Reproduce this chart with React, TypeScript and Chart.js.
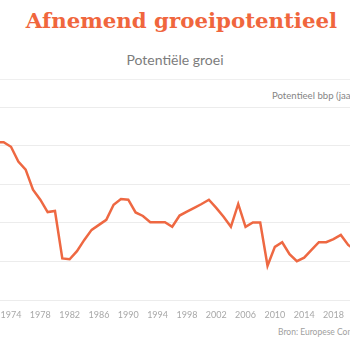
import { useEffect, useRef } from "react";
import { Chart, registerables } from "chart.js";

Chart.register(...registerables);

const years = [
  1971, 1972, 1973, 1974, 1975, 1976, 1977, 1978, 1979, 1980,
  1981, 1982, 1983, 1984, 1985, 1986, 1987, 1988, 1989, 1990,
  1991, 1992, 1993, 1994, 1995, 1996, 1997, 1998, 1999, 2000,
  2001, 2002, 2003, 2004, 2005, 2006, 2007, 2008, 2009, 2010,
  2011, 2012, 2013, 2014, 2015, 2016, 2017, 2018, 2019, 2020, 2021,
];

const potentialGrowth = [
  4.1, 4.09, 4.09, 3.97, 3.59, 3.38, 2.86, 2.6, 2.28, 2.31,
  1.08, 1.06, 1.27, 1.56, 1.82, 1.95, 2.08, 2.47, 2.62, 2.6,
  2.27, 2.18, 2.02, 2.02, 2.02, 1.9, 2.19, 2.29, 2.39, 2.49,
  2.6, 2.39, 2.16, 1.9, 2.49, 1.9, 2.01, 2.01, 0.89, 1.38,
  1.5, 1.19, 1.01, 1.1, 1.3, 1.5, 1.5, 1.58, 1.69, 1.43, 1.3,
];

const tickYears = [1974, 1978, 1982, 1986, 1990, 1994, 1998, 2002, 2006, 2010, 2014, 2018];
const yTicks = [0, 1, 2, 3, 4, 5];

const titleText = "Afnemend groeipotentieel";
const subtitleText = "Potentiële groei";
const unitText = "Potentieel bbp (jaarlijkse groei, %)";
const sourceText = "Bron: Europese Commissie";

export default function App() {
  const ref = useRef<HTMLCanvasElement>(null);

  useEffect(() => {
    if (!ref.current) return;
    const chart = new Chart(ref.current, {
      type: "line",
      data: {
        datasets: [
          {
            data: years.map((y, i) => ({ x: y, y: potentialGrowth[i] })),
            borderColor: "#EE6842",
            borderWidth: 2.5,
            pointRadius: 0,
            tension: 0,
            fill: false,
          },
        ],
      },
      options: {
        animation: false,
        responsive: false,
        maintainAspectRatio: false,
        layout: { padding: { left: 0, right: 0, top: 107, bottom: 21 } },
        plugins: { legend: { display: false }, tooltip: { enabled: false } },
        scales: {
          x: {
            type: "linear",
            min: 1972.5,
            max: 2020.25,
            afterBuildTicks: (s: any) => {
              s.ticks = tickYears.map((v) => ({ value: v }));
            },
            afterFit: (s: any) => {
              s.paddingLeft = 0;
              s.paddingRight = 0;
            },
            ticks: {
              callback: (v: any) => String(v),
              font: { family: "Lato", size: 9 },
              color: "#a8a8a8",
              padding: 9,
              maxRotation: 0,
              autoSkip: false,
            },
            grid: { display: false, drawTicks: false },
            border: { display: false },
          },
          y: {
            min: 0,
            max: 5,
            afterBuildTicks: (s: any) => {
              s.ticks = yTicks.map((v) => ({ value: v }));
            },
            afterFit: (s: any) => {
              s.width = 0;
            },
            ticks: { display: false },
            grid: { color: "#ececec", drawTicks: false, lineWidth: 1 },
            border: { display: false },
          },
        },
      },
    });
    return () => chart.destroy();
  }, []);

  return (
    <div
      style={{
        position: "fixed",
        left: 0,
        top: 0,
        width: 350,
        height: 350,
        overflow: "hidden",
        background: "#fff",
      }}
    >
      <div
        style={{
          position: "absolute",
          left: 0,
          top: 11,
          width: 363,
          textAlign: "center",
          fontFamily: "'DejaVu Serif', serif",
          fontWeight: 700,
          fontSize: 21.3,
          lineHeight: "20px",
          color: "#F0663D",
          whiteSpace: "nowrap",
        }}
      >
        {titleText}
      </div>
      <div
        style={{
          position: "absolute",
          left: 0,
          top: 51,
          width: 350,
          textAlign: "center",
          fontFamily: "Lato, sans-serif",
          fontSize: 14,
          lineHeight: "17px",
          color: "#7c7c7c",
          whiteSpace: "nowrap",
        }}
      >
        {subtitleText}
      </div>
      <div
        style={{
          position: "absolute",
          left: 0,
          top: 79,
          width: 350,
          height: 1,
          background: "#efefef",
        }}
      />
      <div
        style={{
          position: "absolute",
          left: 272,
          top: 90,
          fontFamily: "Lato, sans-serif",
          fontSize: 9.6,
          lineHeight: "11px",
          color: "#858585",
          whiteSpace: "nowrap",
        }}
      >
        {unitText}
      </div>
      <div
        style={{
          position: "absolute",
          left: 278,
          top: 327,
          fontFamily: "Lato, sans-serif",
          fontSize: 8.5,
          lineHeight: "11px",
          color: "#a0a0a0",
          whiteSpace: "nowrap",
        }}
      >
        {sourceText}
      </div>
      <canvas
        ref={ref}
        width={350}
        height={350}
        style={{ position: "absolute", left: 0, top: 0, width: 350, height: 350 }}
      />
    </div>
  );
}
